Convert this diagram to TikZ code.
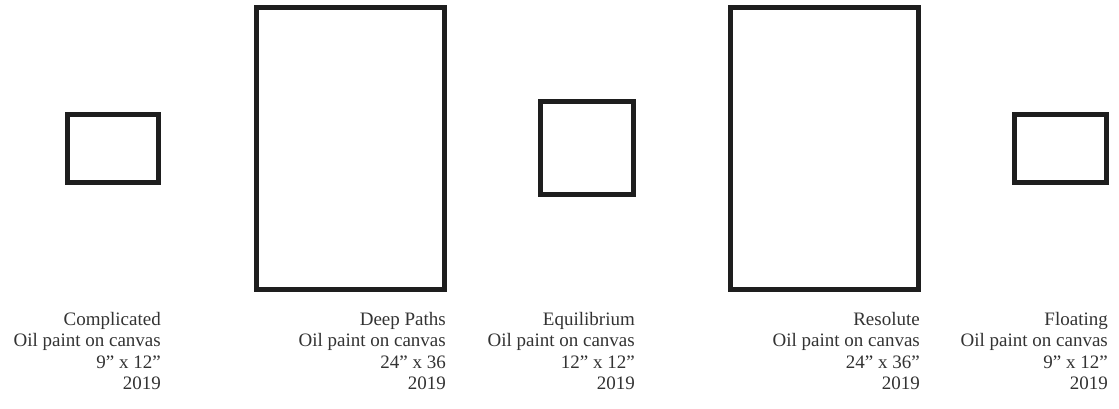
\documentclass[tikz,border=0pt]{standalone}
\usepackage{fontspec}
\setmainfont{Liberation Serif}
\definecolor{frame}{HTML}{1E1E1E}
\definecolor{cap}{HTML}{333333}
\tikzset{
  canvasbox/.style={draw=frame, line width=5pt, fill=white},
  caption/.style={anchor=base east, align=right, inner sep=0pt, text=cap,
    font=\fontsize{19}{21.5}\selectfont}
}
\begin{document}
\begin{tikzpicture}[x=1pt,y=-1pt]
\useasboundingbox[fill=white] (0,0) rectangle (1119,409);
\draw[canvasbox] (67.5,114.5) rectangle (158.5,182.5);
\draw[canvasbox] (256.5,7.5) rectangle (444.5,289.5);
\draw[canvasbox] (540.5,101.5) rectangle (633.5,194.5);
\draw[canvasbox] (730.5,7.5) rectangle (918.5,289.5);
\draw[canvasbox] (1014.5,114.5) rectangle (1106.5,182.5);
\node[caption] (c1) at (161,389.5) {Complicated\\Oil paint on canvas\\9” x 12”\\2019};
\node[caption] (c2) at (446,389.5) {Deep Paths\\Oil paint on canvas\\24” x 36\\2019};
\node[caption] (c3) at (635,389.5) {Equilibrium\\Oil paint on canvas\\12” x 12”\\2019};
\node[caption] (c4) at (920,389.5) {Resolute\\Oil paint on canvas\\24” x 36”\\2019};
\node[caption] (c5) at (1108,389.5) {Floating\\Oil paint on canvas\\9” x 12”\\2019};
\end{tikzpicture}
\end{document}
